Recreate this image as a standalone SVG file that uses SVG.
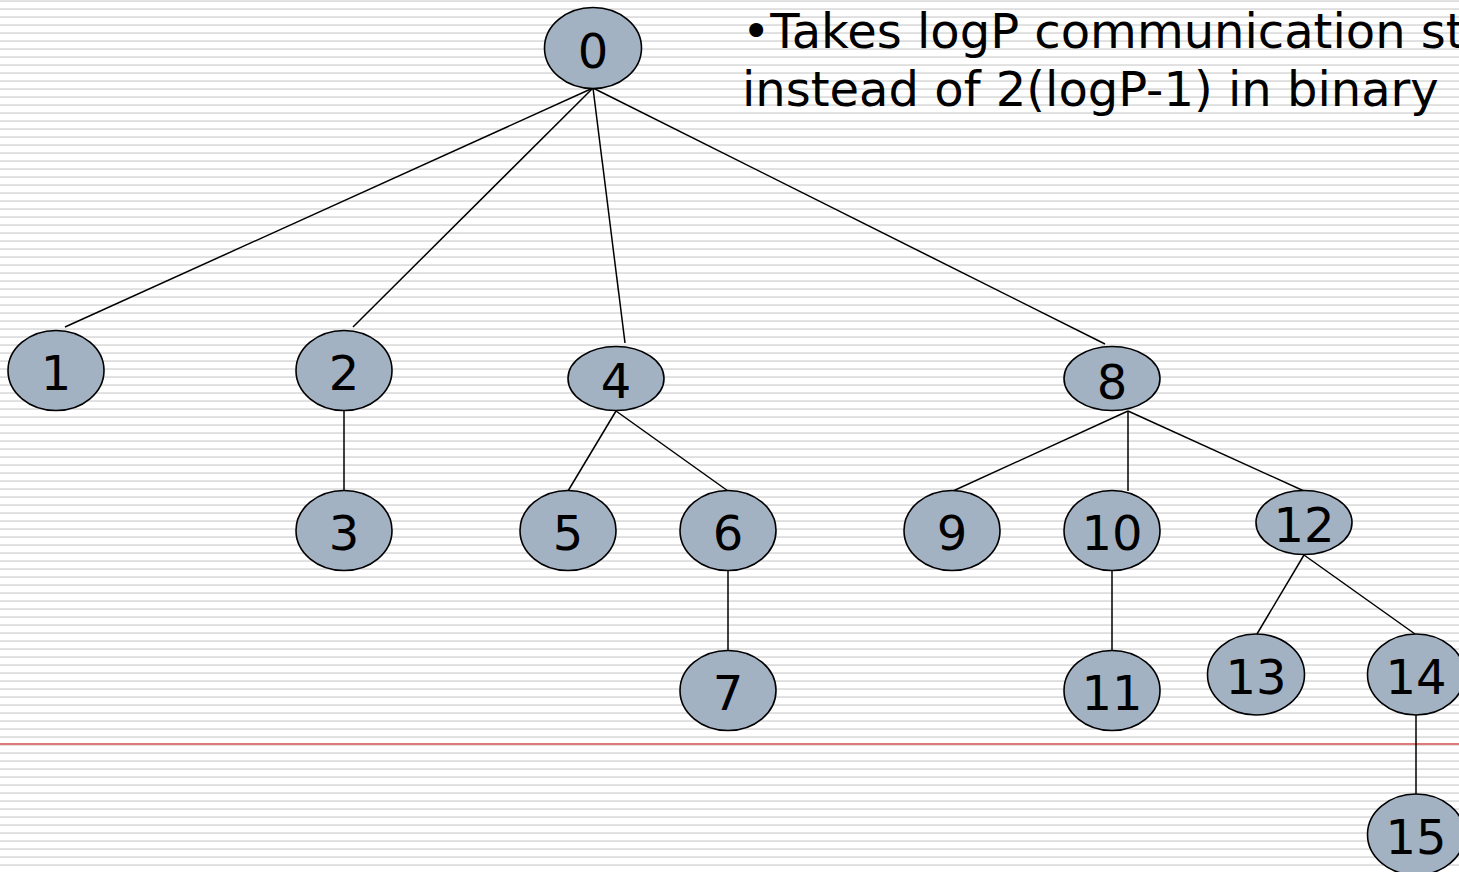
<svg xmlns="http://www.w3.org/2000/svg" width="1459" height="872" viewBox="0 0 1459 872">
  <style>
    .node ellipse { fill: #a3b2c3; stroke: #000; stroke-width: 1.6; }
    .node text { font-family: "DejaVu Sans", Verdana, sans-serif; font-size: 48px; fill: #000; text-anchor: middle; }
    #edges line { stroke: #000; stroke-width: 1.5; }
    .note { font-family: "DejaVu Sans", Verdana, sans-serif; font-size: 48px; fill: #000; }
  </style>
  <defs>
    <pattern id="ruled" x="0" y="0" width="1459" height="8" patternUnits="userSpaceOnUse">
      <rect x="0" y="0.2" width="1459" height="1.7" fill="#dcdcdc"/>
    </pattern>
  </defs>

  <!-- ruled page background -->
  <rect width="1459" height="872" fill="#fff"/>
  <rect width="1459" height="872" fill="url(#ruled)"/>
  <rect x="0" y="743" width="1459" height="2" fill="#e07a7a"/>

  <!-- caption -->
  <text class="note" x="742" y="48">•Takes logP communication st</text>
  <text class="note" x="742" y="106">instead of 2(logP-1) in binary</text>

  <!-- tree edges -->
  <g id="edges">
    <line x1="593" y1="88" x2="65" y2="327"/>
    <line x1="593" y1="88" x2="353" y2="327"/>
    <line x1="593" y1="88" x2="625" y2="343"/>
    <line x1="593" y1="88" x2="1105" y2="344"/>
    <line x1="344" y1="411" x2="344" y2="491"/>
    <line x1="616" y1="411" x2="568" y2="491"/>
    <line x1="616" y1="411" x2="728" y2="491"/>
    <line x1="728" y1="571" x2="728" y2="650"/>
    <line x1="1128" y1="411" x2="953" y2="491"/>
    <line x1="1128" y1="411" x2="1128" y2="491"/>
    <line x1="1128" y1="411" x2="1304" y2="491"/>
    <line x1="1112" y1="571" x2="1112" y2="650"/>
    <line x1="1304" y1="555" x2="1257" y2="634"/>
    <line x1="1304" y1="555" x2="1415" y2="634"/>
    <line x1="1416" y1="715" x2="1416" y2="794"/>
  </g>

  <!-- tree nodes -->
  <g id="n0" class="node"><ellipse cx="593" cy="48" rx="48.5" ry="40.5"/><text x="593" y="68">0</text></g>
  <g id="n1" class="node"><ellipse cx="56" cy="370.5" rx="48" ry="40"/><text x="56" y="390">1</text></g>
  <g id="n2" class="node"><ellipse cx="344" cy="370.5" rx="48" ry="40"/><text x="344" y="390">2</text></g>
  <g id="n3" class="node"><ellipse cx="344" cy="530.5" rx="48" ry="40"/><text x="344" y="550">3</text></g>
  <g id="n4" class="node"><ellipse cx="616" cy="378.5" rx="48" ry="32"/><text x="616" y="398">4</text></g>
  <g id="n5" class="node"><ellipse cx="568" cy="530.5" rx="48" ry="40"/><text x="568" y="550">5</text></g>
  <g id="n6" class="node"><ellipse cx="728" cy="530.5" rx="48" ry="40"/><text x="728" y="550">6</text></g>
  <g id="n7" class="node"><ellipse cx="728" cy="690.5" rx="48" ry="40"/><text x="728" y="710">7</text></g>
  <g id="n8" class="node"><ellipse cx="1112" cy="378.5" rx="48" ry="32"/><text x="1112" y="399">8</text></g>
  <g id="n9" class="node"><ellipse cx="952" cy="530.5" rx="48" ry="40"/><text x="952" y="550">9</text></g>
  <g id="n10" class="node"><ellipse cx="1112" cy="530.5" rx="48" ry="40"/><text x="1112" y="550">10</text></g>
  <g id="n11" class="node"><ellipse cx="1112" cy="690.5" rx="48" ry="40"/><text x="1112" y="710">11</text></g>
  <g id="n12" class="node"><ellipse cx="1304" cy="522.5" rx="48" ry="32"/><text x="1304" y="542">12</text></g>
  <g id="n13" class="node"><ellipse cx="1256" cy="674.5" rx="48.5" ry="40.5"/><text x="1256" y="694">13</text></g>
  <g id="n14" class="node"><ellipse cx="1416" cy="674.5" rx="48.5" ry="40.5"/><text x="1416" y="694">14</text></g>
  <g id="n15" class="node"><ellipse cx="1416" cy="834.5" rx="48.5" ry="40.5"/><text x="1416" y="854">15</text></g>
</svg>
